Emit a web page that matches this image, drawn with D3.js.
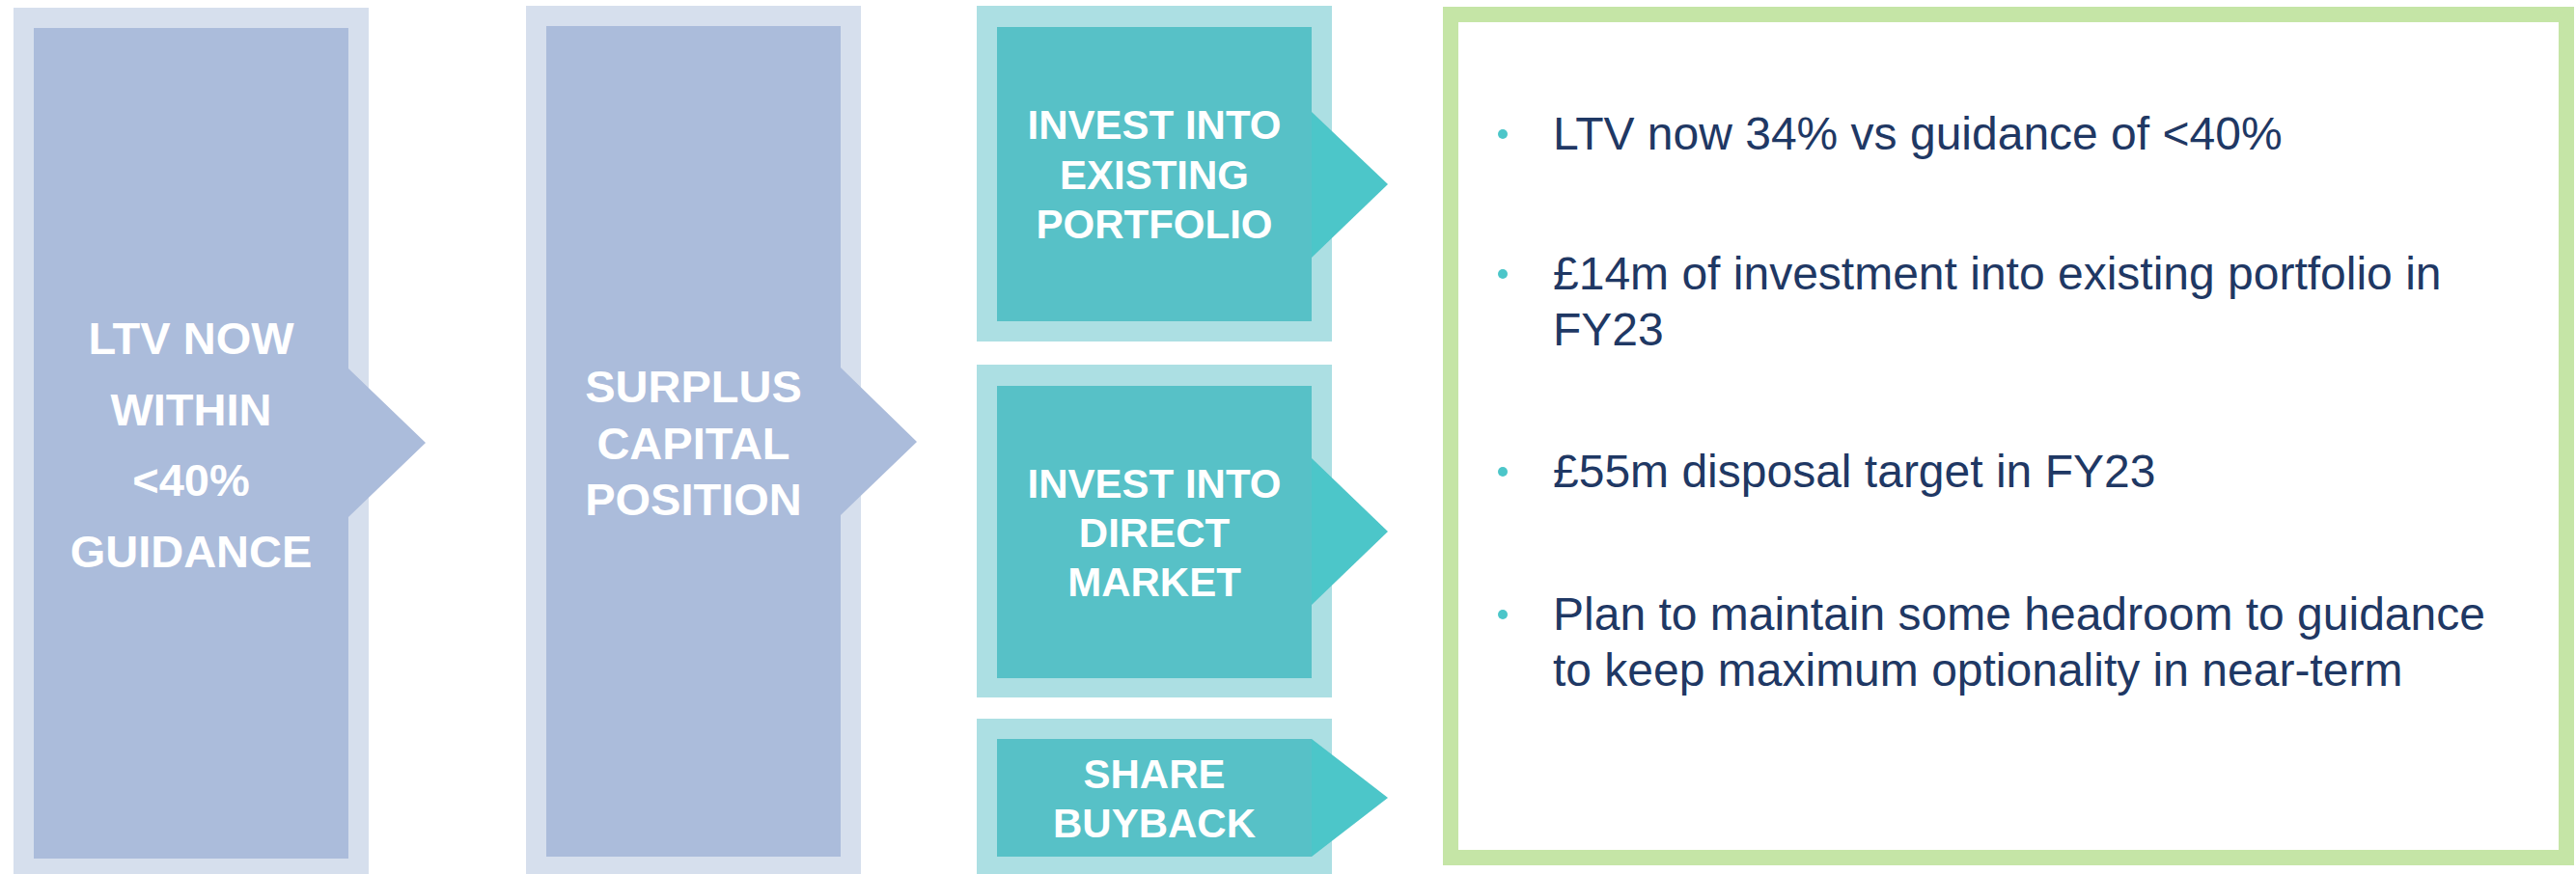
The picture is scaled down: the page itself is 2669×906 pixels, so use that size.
<!DOCTYPE html>
<html>
<head>
<meta charset="utf-8">
<script src="https://cdn.jsdelivr.net/npm/d3@7"></script>
<style>
  html, body { margin: 0; padding: 0; background: #fff; }
  svg { display: block; }
  text { font-family: "Liberation Sans", Arial, sans-serif; }
</style>
</head>
<body>
<script>
// Labels of the flow (left to right)
var leftLabels = [
  ["LTV NOW", "WITHIN", "<40%", "GUIDANCE"],
  ["SURPLUS", "CAPITAL", "POSITION"]
];
var optionLabels = [
  ["INVEST INTO", "EXISTING", "PORTFOLIO"],
  ["INVEST INTO", "DIRECT", "MARKET"],
  ["SHARE", "BUYBACK"]
];
var bullets = [
  ["LTV now 34% vs guidance of <40%"],
  ["£14m of investment into existing portfolio in", "FY23"],
  ["£55m disposal target in FY23"],
  ["Plan to maintain some headroom to guidance", "to keep maximum optionality in near-term"]
];

var W = 2669, H = 906;
var svg = d3.select("body").append("svg")
  .attr("width", W).attr("height", H);

// farben
var lavOuter = "#d6dfed", lavInner = "#abbcdb";
var tealOuter = "#acdfe3", tealInner = "#57c1c7", tealArrow = "#4cc6c9";
var navy = "#1f3864";

// Linke Boxen (outer frame, inner box, arrow, text)
var leftBoxes = [
  {ox: 14, oy: 8, ow: 368, ih: 0, ix: 35, iy: 29, iw: 326, ihh: 861,
   ay0: 382, ay1: 536, tipX: 441, tipY: 459, base: 367, lh: 73.5},
  {ox: 545, oy: 6, ow: 347, ix: 566, iy: 27, iw: 305, ihh: 861,
   ay0: 381, ay1: 534, tipX: 950, tipY: 458, base: 417, lh: 58.5}
];

leftBoxes.forEach(function(b, i) {
  var g = svg.append("g");
  g.append("rect").attr("x", b.ox).attr("y", b.oy)
    .attr("width", b.ow).attr("height", H - b.oy + 10).attr("fill", lavOuter);
  var r = b.ix + b.iw;
  var pts = [[b.ix, b.iy], [r, b.iy], [r, b.ay0], [b.tipX, b.tipY], [r, b.ay1],
             [r, b.iy + b.ihh], [b.ix, b.iy + b.ihh]];
  g.append("path").attr("d", d3.line()(pts) + "Z").attr("fill", lavInner);
  g.selectAll("text.lbl").data(leftLabels[i]).join("text")
    .attr("class", "lbl")
    .attr("x", b.ix + b.iw / 2)
    .attr("y", function(d, j) { return b.base + j * b.lh; })
    .attr("text-anchor", "middle")
    .attr("fill", "#fff").attr("font-weight", "bold").attr("font-size", 47)
    .text(function(d) { return d; });
});

// Teal Boxen rechts
var optBoxes = [
  {oy: 6, oh: 348, iy: 28, ih: 305, ay0: 116, ay1: 267, tipY: 191, base: 144, lh: 51.5},
  {oy: 378, oh: 345, iy: 400, ih: 303, ay0: 475, ay1: 627, tipY: 551, base: 516, lh: 51},
  {oy: 745, oh: 200, iy: 766, ih: 122, ay0: 766, ay1: 888, tipY: 827, base: 817, lh: 51}
];
var oxT = 1012, owT = 368, ixT = 1033, iwT = 326, tipXT = 1438;

optBoxes.forEach(function(b, i) {
  var g = svg.append("g");
  g.append("rect").attr("x", oxT).attr("y", b.oy)
    .attr("width", owT).attr("height", b.oh).attr("fill", tealOuter);
  g.append("rect").attr("x", ixT).attr("y", b.iy)
    .attr("width", iwT).attr("height", b.ih).attr("fill", tealInner);
  var r = ixT + iwT;
  g.append("path")
    .attr("d", d3.line()([[r, b.ay0], [tipXT, b.tipY], [r, b.ay1]]) + "Z")
    .attr("fill", tealArrow);
  g.selectAll("text.lbl").data(optionLabels[i]).join("text")
    .attr("class", "lbl")
    .attr("x", ixT + iwT / 2)
    .attr("y", function(d, j) { return b.base + j * b.lh; })
    .attr("text-anchor", "middle")
    .attr("fill", "#fff").attr("font-weight", "bold").attr("font-size", 42)
    .text(function(d) { return d; });
});

// Gruener Rahmen mit Stichpunkten
svg.append("rect").attr("x", 1503).attr("y", 15)
  .attr("width", 1156).attr("height", 874)
  .attr("fill", "#fff").attr("stroke", "#c5e5a6").attr("stroke-width", 16);

var bulletBase = [155, 300, 505, 653];
var bulletLH = 58;
var bg = svg.append("g");
bullets.forEach(function(lines, i) {
  bg.append("circle").attr("cx", 1557).attr("cy", bulletBase[i] - 16)
    .attr("r", 5).attr("fill", "#4cc6c9");
  bg.selectAll("text.b" + i).data(lines).join("text")
    .attr("class", "b" + i)
    .attr("x", 1609)
    .attr("y", function(d, j) { return bulletBase[i] + j * bulletLH; })
    .attr("fill", navy).attr("font-size", 48)
    .text(function(d) { return d; });
});
</script>
</body>
</html>
